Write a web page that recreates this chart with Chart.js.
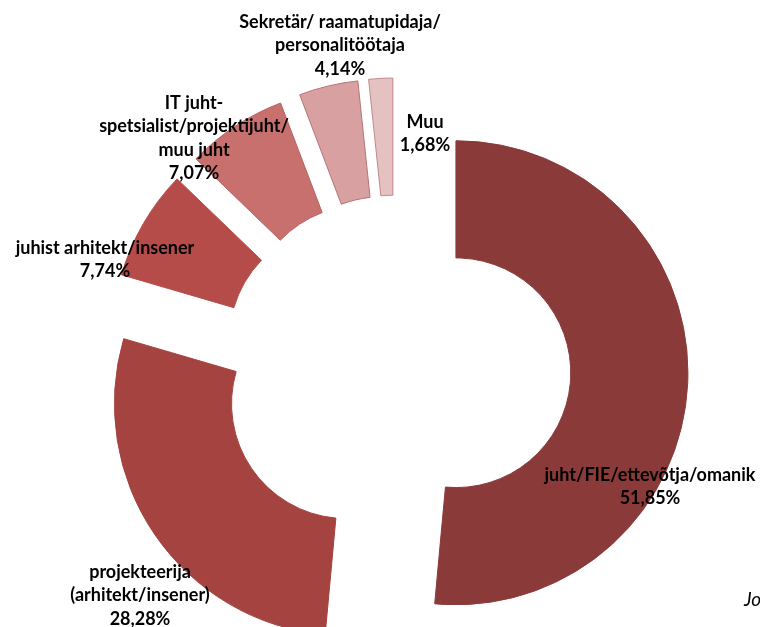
<!DOCTYPE html>
<html>
<head>
<meta charset="utf-8">
<script src="https://cdn.jsdelivr.net/npm/chart.js@4/dist/chart.umd.min.js"></script>
<style>
  body { margin: 0; background: #fff; }
  #wrap { position: relative; width: 760px; height: 627px; }
</style>
</head>
<body>
<div id="wrap"><canvas id="my-chart"></canvas></div>
<script>
'use strict';

// ***** DATA *****
let categories = [
  ['juht/FIE/ettevõtja/omanik'],
  ['projekteerija', '(arhitekt/insener)'],
  ['juhist arhitekt/insener'],
  ['IT juht-', 'spetsialist/projektijuht/', 'muu juht'],
  ['Sekretär/ raamatupidaja/', 'personalitöötaja'],
  ['Muu']
];
let shares = [51.85, 28.28, 7.74, 7.07, 4.14, 1.68];

// ***** STYLE *****
let sliceColors = ['#8b3a3a', '#a4433f', '#b54c49', '#c8706d', '#d8a0a0', '#e5c2c2'];
let sliceBorders = ['#8b3a3a', '#a4433f', '#b54c49', '#b96260', '#b77373', '#c08888'];
let explodeDistance = 60;
// centre of each label block (x, y of first line)
let labelSpots = [
  [650, 475], [140, 572], [105, 248], [194, 103], [340, 22], [425, 122]
];
let lineHeight = 23.5;

// ***** HELPERS *****
function formatShare(v) {
  return v.toFixed(2).replace('.', ',') + '%';
}

// push every slice out along its own middle angle, like Excel point explosion
let explodePlugin = {
  id: 'explode',
  afterDatasetsUpdate(chart) {
    let arcs = chart.getDatasetMeta(0).data;
    for (let i = 0; i < arcs.length; i++) {
      let mid = (arcs[i].startAngle + arcs[i].endAngle) / 2;
      arcs[i].x += Math.cos(mid) * explodeDistance;
      arcs[i].y += Math.sin(mid) * explodeDistance;
    }
  }
};

let labelPlugin = {
  id: 'sliceLabels',
  afterDraw(chart) {
    let c = chart.ctx;
    c.save();
    c.fillStyle = '#000';
    c.textAlign = 'center';
    c.textBaseline = 'middle';
    c.font = 'bold 18px Lato';
    for (let i = 0; i < categories.length; i++) {
      let lines = categories[i].concat([formatShare(shares[i])]);
      for (let j = 0; j < lines.length; j++) {
        c.fillText(lines[j], labelSpots[i][0], labelSpots[i][1] + j * lineHeight);
      }
    }
    c.font = 'italic 19px Lato';
    c.textAlign = 'left';
    c.fillText('Jo', 744, 600);
    c.restore();
  }
};

// ***** CHART *****
let ctx = document.getElementById('my-chart');

new Chart(ctx, {
  type: 'doughnut',
  data: {
    labels: categories.map(l => l.join(' ')),
    datasets: [{
      data: shares,
      backgroundColor: sliceColors,
      borderColor: sliceBorders,
      borderWidth: 1
    }]
  },
  options: {
    responsive: true,
    maintainAspectRatio: false,
    animation: false,
    radius: 232,
    cutout: '49.5%',
    layout: { padding: { left: 32, right: 0, top: 113, bottom: 0 } },
    plugins: {
      legend: { display: false },
      tooltip: { enabled: false }
    }
  },
  plugins: [explodePlugin, labelPlugin]
});
</script>
</body>
</html>
